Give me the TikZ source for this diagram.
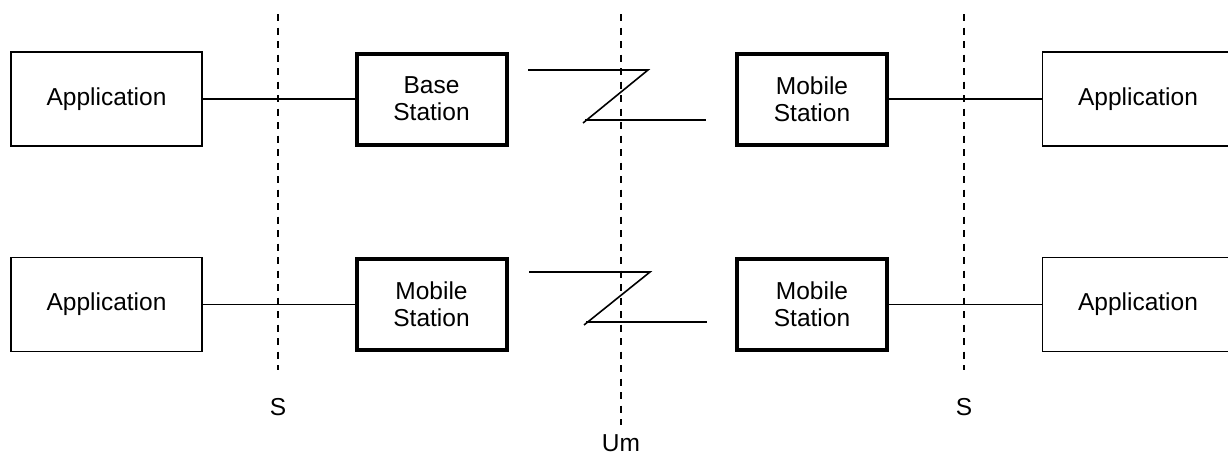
\documentclass[tikz,border=0pt]{standalone}
\usepackage{fontspec}
\setmainfont{Liberation Sans}
\begin{document}
\begin{tikzpicture}[x=1pt,y=-1pt,
  every node/.style={font=\fontsize{24.5}{27}\selectfont, align=center, inner sep=0pt},
  appbox/.style={draw, line width=1.5pt, minimum width=191pt, minimum height=94pt},
  stbox/.style={draw, line width=4pt, minimum width=150pt, minimum height=91pt},
  link/.style={line width=1.5pt},
  iface/.style={line width=1.8pt, dash pattern=on 7pt off 6.5pt},
  zline/.style={line width=1.6pt, line join=miter}]
\useasboundingbox (0,0) rectangle (1228,455);
\begin{scope}
\clip (0,0) rectangle (1228,455);
% top row
\node[appbox] (a1) at (106.5,99) {Application};
\node[stbox]  (b1) at (431.5,99) {Base\\Station};
\node[stbox]  (m1) at (812,99) {Mobile\\Station};
\node[appbox] (a2) at (1138,99) {Application};
% bottom row
\node[appbox] (a3) at (106.5,304.5) {Application};
\node[stbox]  (m2) at (431.5,304.5) {Mobile\\Station};
\node[stbox]  (m3) at (812,304.5) {Mobile\\Station};
\node[appbox] (a4) at (1138,304.5) {Application};
\end{scope}
\draw[link] (a1) -- (b1);
\draw[link] (m1) -- (a2);
\draw[link] (a3) -- (m2);
\draw[link] (m3) -- (a4);
% radio links
\draw[zline] (528,70) -- (648,70) -- (583,123);
\draw[zline] (585,120) -- (706,120);
\draw[zline] (529,272) -- (650,272) -- (584,325);
\draw[zline] (586,322) -- (707,322);
% interfaces
\coordinate (s1t) at (278,14);  \coordinate (s1b) at (278,370);
\coordinate (umt) at (621,14);  \coordinate (umb) at (621,425);
\coordinate (s2t) at (964,14);  \coordinate (s2b) at (964,370);
\draw[iface] (s1t) -- (s1b);
\draw[iface] (umt) -- (umb);
\draw[iface] (s2t) -- (s2b);
\node (ls1) at (278,407) {S};
\node (ls2) at (964,407) {S};
\node (lum) at (621,443) {Um};
\end{tikzpicture}
\end{document}
